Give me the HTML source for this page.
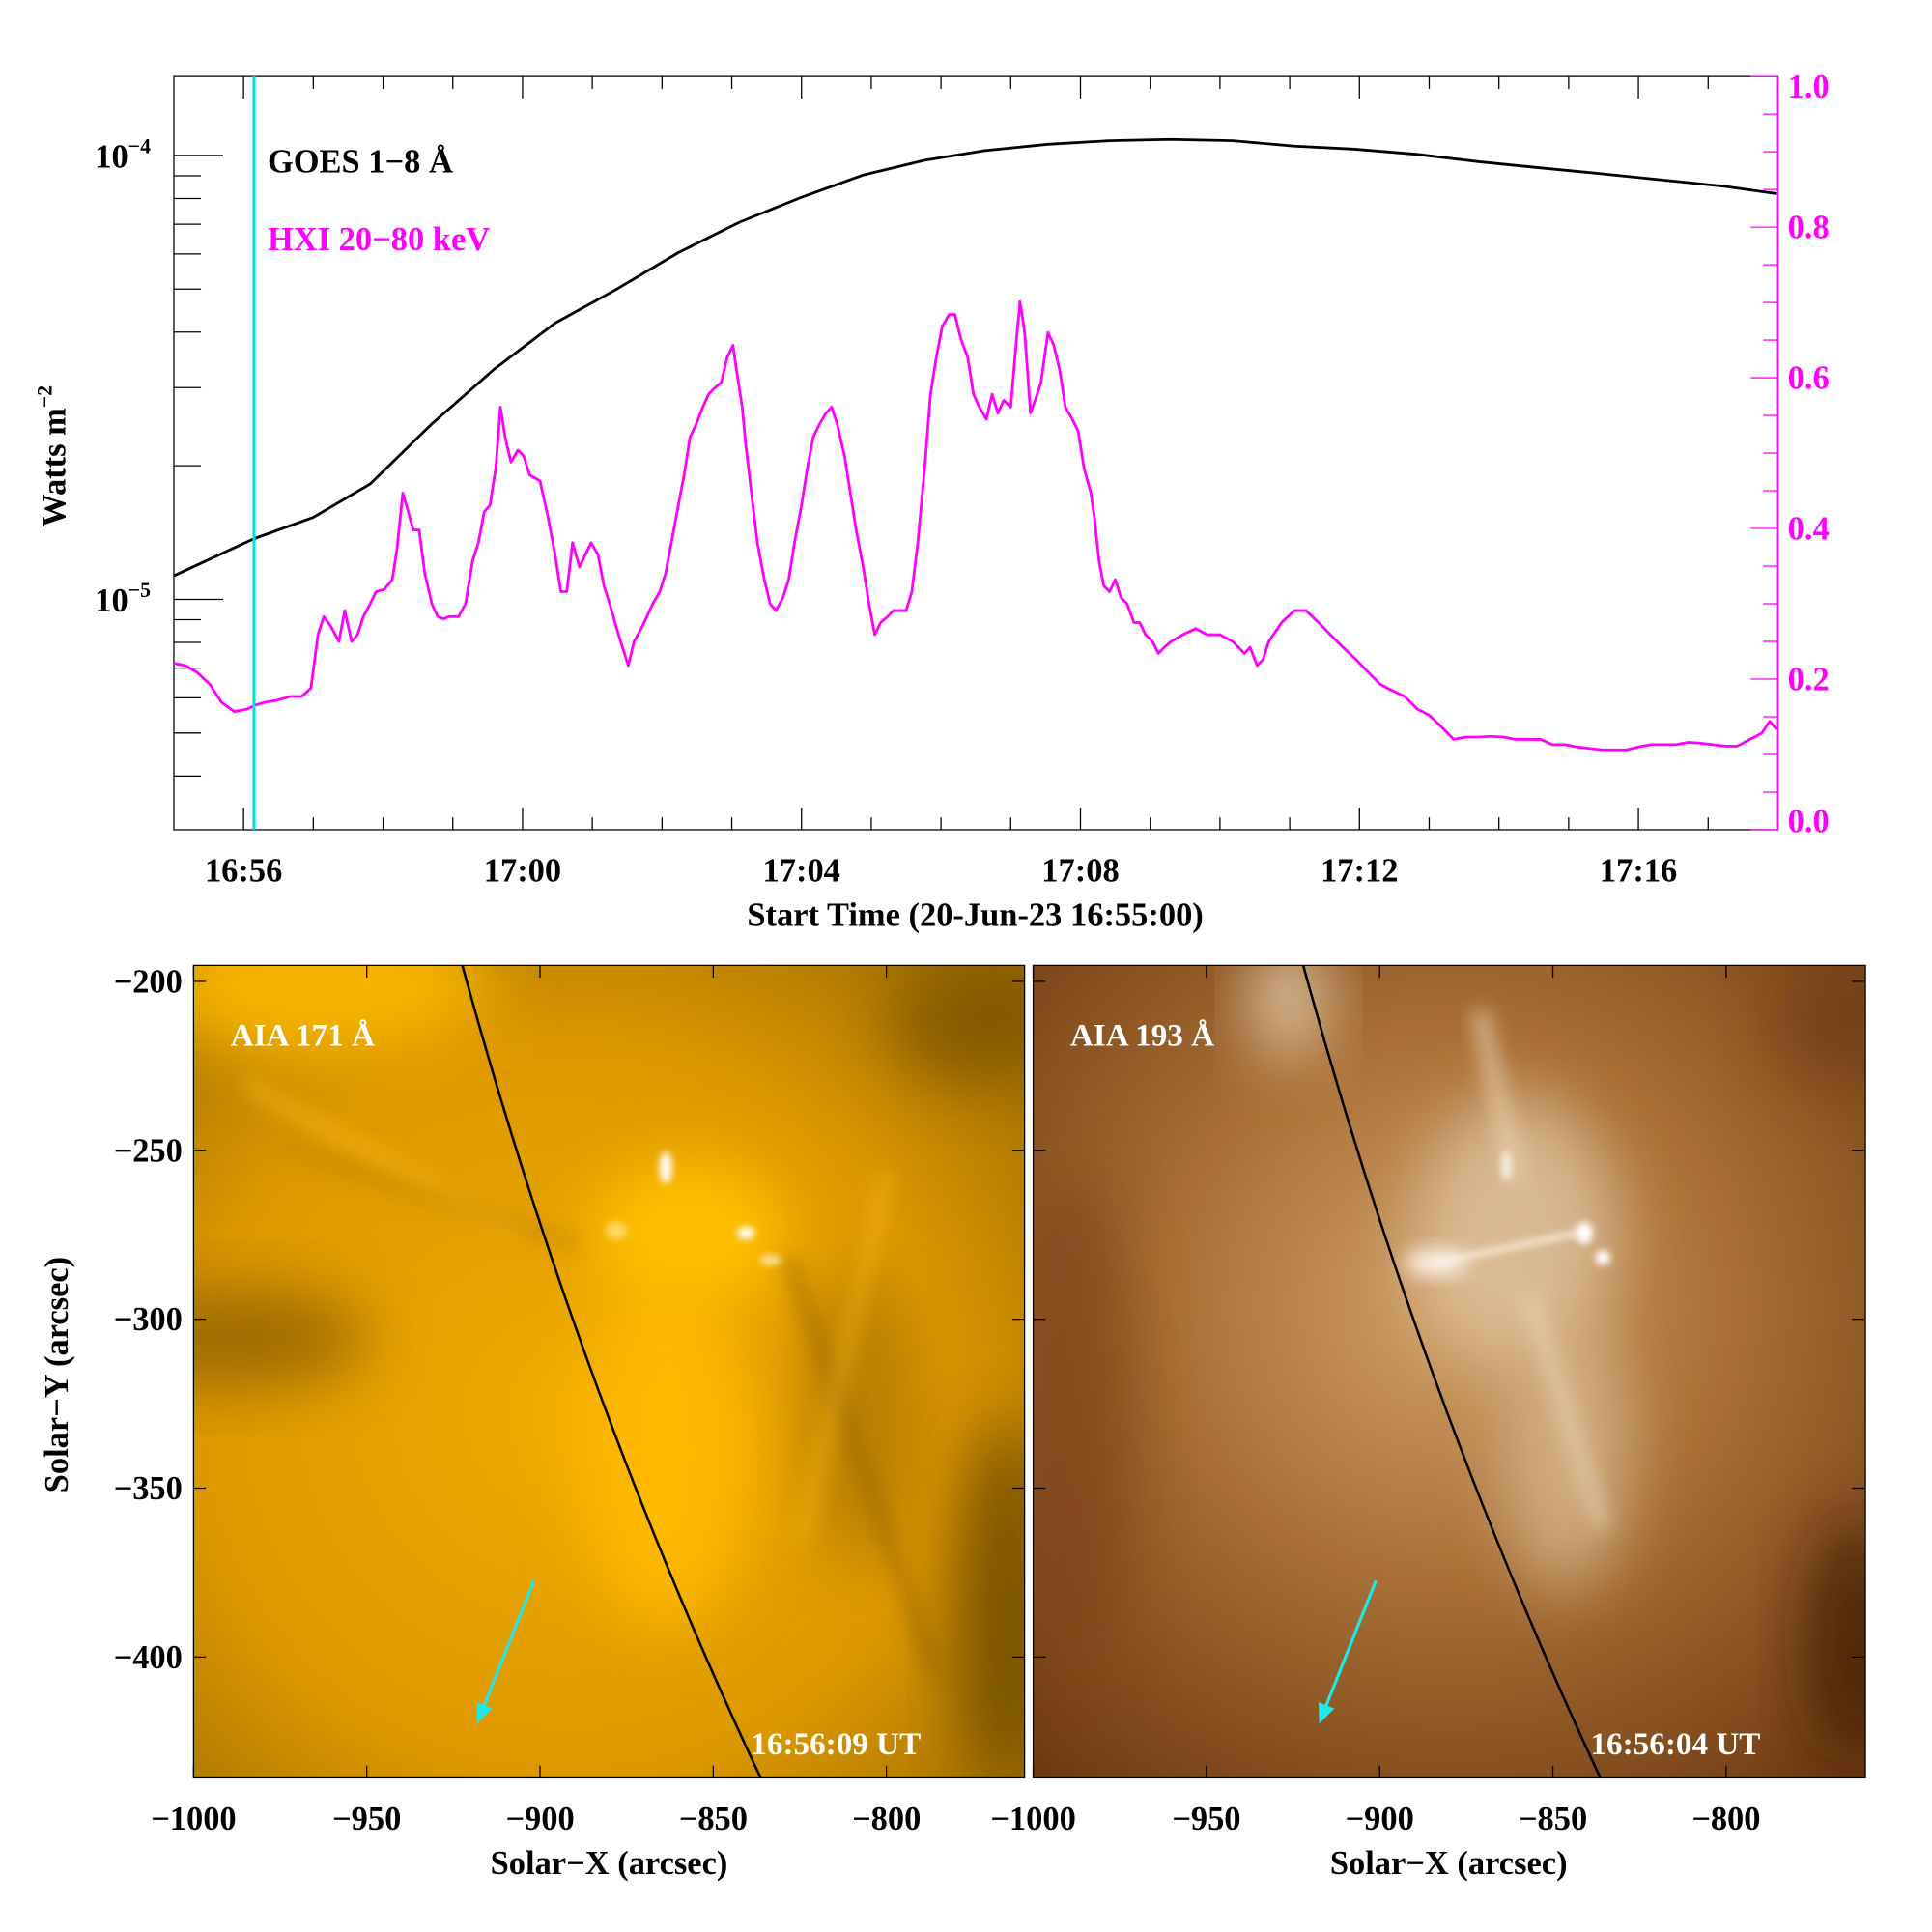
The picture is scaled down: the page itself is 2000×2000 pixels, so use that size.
<!DOCTYPE html>
<html><head><meta charset="utf-8"><style>
html,body{margin:0;padding:0;background:#fff;overflow:hidden}
svg{display:block}
text{font-family:"Liberation Serif",serif}
</style></head><body>
<svg id="fig" xmlns="http://www.w3.org/2000/svg" width="2000" height="2000" viewBox="0 0 1567 1567">
<defs>
<filter id="blur8" x="-50%" y="-50%" width="200%" height="200%"><feGaussianBlur stdDeviation="8"/></filter>
<filter id="blur20" x="-50%" y="-50%" width="200%" height="200%"><feGaussianBlur stdDeviation="26"/></filter>
<filter id="blur3" x="-50%" y="-50%" width="200%" height="200%"><feGaussianBlur stdDeviation="3"/></filter>
<clipPath id="clipL"><rect x="157" y="783" width="674" height="659"/></clipPath>
<clipPath id="clipR"><rect x="838" y="783" width="675" height="659"/></clipPath>
<radialGradient id="gL" cx="0.45" cy="0.55" r="0.75"><stop offset="0" stop-color="#f0ac00"/><stop offset="0.6" stop-color="#dc9800"/><stop offset="1" stop-color="#9a6c00"/></radialGradient>
<radialGradient id="gR" cx="0.5" cy="0.42" r="0.75"><stop offset="0" stop-color="#d0a068"/><stop offset="0.45" stop-color="#a87036"/><stop offset="1" stop-color="#6e3a10"/></radialGradient>
</defs>
<g id="topPanel"></g>
<g id="bottomPanel"></g>
</svg>
<script>
// ---- chart data ----
const goesTimes = [0,69,120,169,221,275,328,380,434,487,540,593,646,698,752,805,857,911,964,1016,1070,1123,1175,1229,1282,1334,1379]; // seconds after 16:55:00
const goesFlux = [1.13e-5,1.37e-5,1.53e-5,1.82e-5,2.47e-5,3.29e-5,4.19e-5,4.98e-5,6.04e-5,7.08e-5,8.05e-5,9.03e-5,9.75e-5,1.026e-4,1.06e-4,1.08e-4,1.087e-4,1.08e-4,1.05e-4,1.033e-4,1.006e-4,9.68e-5,9.38e-5,9.09e-5,8.8e-5,8.52e-5,8.2e-5];
const hxiTimes = [0,10,20,31,41,52,63,69,78,89,100,110,118,124,129,135,142,147,153,158,163,169,174,181,188,192,197,200,206,211,216,222,227,232,237,245,251,257,262,267,272,277,281,285,290,296,301,306,315,322,328,333,338,343,349,354,359,365,370,375,381,386,391,396,402,407,412,418,423,428,434,439,444,449,455,460,465,471,476,481,484,489,492,497,502,508,513,518,524,529,534,540,545,550,555,561,566,571,577,582,587,593,598,603,608,614,619,624,630,635,640,646,651,656,661,667,672,677,683,688,693,699,704,709,714,720,725,728,732,737,741,746,752,757,762,767,773,778,783,789,792,796,800,805,810,815,820,826,831,836,842,847,852,858,868,879,889,900,911,921,926,932,937,942,953,964,974,985,995,1006,1017,1027,1038,1048,1059,1070,1080,1091,1101,1112,1123,1133,1144,1154,1165,1176,1186,1197,1207,1218,1229,1239,1250,1260,1271,1282,1292,1303,1313,1324,1335,1345,1356,1366,1373,1379];
const hxiValues = [0.221,0.218,0.209,0.193,0.169,0.157,0.160,0.165,0.169,0.172,0.177,0.177,0.188,0.259,0.283,0.270,0.250,0.291,0.250,0.259,0.283,0.300,0.316,0.319,0.332,0.373,0.447,0.431,0.398,0.398,0.340,0.300,0.283,0.280,0.283,0.283,0.300,0.357,0.381,0.422,0.431,0.480,0.561,0.521,0.488,0.504,0.496,0.471,0.463,0.414,0.365,0.316,0.316,0.381,0.349,0.365,0.381,0.365,0.324,0.300,0.267,0.242,0.218,0.250,0.267,0.283,0.300,0.316,0.340,0.381,0.431,0.471,0.521,0.537,0.561,0.578,0.586,0.594,0.627,0.643,0.611,0.561,0.512,0.447,0.381,0.332,0.300,0.291,0.308,0.332,0.381,0.431,0.480,0.521,0.537,0.553,0.561,0.537,0.496,0.447,0.398,0.349,0.300,0.259,0.275,0.283,0.291,0.291,0.291,0.316,0.381,0.480,0.578,0.627,0.668,0.684,0.684,0.652,0.627,0.578,0.561,0.545,0.578,0.553,0.570,0.561,0.652,0.701,0.660,0.553,0.570,0.594,0.660,0.643,0.611,0.561,0.545,0.529,0.480,0.447,0.414,0.357,0.324,0.316,0.332,0.308,0.300,0.275,0.275,0.259,0.250,0.234,0.242,0.250,0.259,0.267,0.259,0.259,0.250,0.234,0.242,0.218,0.226,0.250,0.275,0.291,0.291,0.275,0.259,0.242,0.226,0.210,0.193,0.185,0.177,0.160,0.152,0.136,0.120,0.123,0.123,0.124,0.123,0.120,0.120,0.120,0.113,0.113,0.110,0.108,0.106,0.106,0.106,0.110,0.113,0.113,0.113,0.116,0.115,0.113,0.111,0.111,0.120,0.128,0.144,0.133];
const timeTickLabels = ["16:56","17:00","17:04","17:08","17:12","17:16"];
const timeTickSeconds = [60,300,540,780,1020,1260];
const rightTickValues = [0.0,0.2,0.4,0.6,0.8,1.0];
const leftDecades = [-5,-4];
const markerTime = [69]; // cyan line 16:56:09
const xTickArcsec = [-1000,-950,-900,-850,-800];
const yTickArcsec = [-200,-250,-300,-350,-400];

const NS="http://www.w3.org/2000/svg";
function el(tag,attrs,parent,txt){const e=document.createElementNS(NS,tag);for(const k in attrs)e.setAttribute(k,attrs[k]);if(txt!==undefined)e.textContent=txt;parent.appendChild(e);return e;}

const topG=document.getElementById('topPanel');
const PL=141,PR=1442,PT=62,PB=673;
const T0=0,T1=1380;
const xS=t=>PL+(t-T0)/(T1-T0)*(PR-PL);
const LMIN=-5.519,LMAX=-3.822;
const yLog=v=>PB-(Math.log10(v)-LMIN)/(LMAX-LMIN)*(PB-PT);
const yLin=v=>PB-v*(PB-PT);
const FS=27;

let r=el('rect',{x:PL,y:PT,width:PR-PL,height:PB-PT,fill:'none',stroke:'#000','stroke-width':1},topG);


let rax=el('line',{x1:PR,y1:PT,x2:PR,y2:PB,stroke:'#ff00ff','stroke-width':1.2},topG);



for(let s=60;s<T1;s+=60){
  const x=xS(s);const major=timeTickSeconds.includes(s);const L=major?18:10;
  const a=el('line',{x1:x,y1:PB,x2:x,y2:PB-L,stroke:'#000','stroke-width':1},topG);
  
  
  const b=el('line',{x1:x,y1:PT,x2:x,y2:PT+L,stroke:'#000','stroke-width':1},topG);
  
  
}
timeTickLabels.forEach((lab,i)=>{
  const t=el('text',{x:xS(timeTickSeconds[i]),y:715,'text-anchor':'middle','font-size':FS,'font-weight':600,fill:'#000'},topG,lab);
  
  
});
let xt=el('text',{x:791,y:751,'text-anchor':'middle','font-size':FS,'font-weight':600,fill:'#000'},topG,'Start Time (20-Jun-23 16:55:00)');



for(let d=-6;d<=-3;d++){
  for(let m=1;m<=9;m++){
    const v=m*Math.pow(10,d);const y=yLog(v);
    if(y<PT||y>PB)continue;
    const L=m===1?40:22;
    const tk=el('line',{x1:PL,y1:y,x2:PL+L,y2:y,stroke:'#000','stroke-width':1},topG);
    
    
  }
}
leftDecades.forEach(d=>{
  const y=yLog(Math.pow(10,d));
  const t=el('text',{x:77,y:y+10,'font-size':FS,'font-weight':600,fill:'#000'},topG);
  
  
  el('tspan',{},t,'10');
  el('tspan',{dy:-12,'font-size':17},t,String(d).replace('-','−'));
});
let yt=el('text',{x:0,y:0,transform:'translate(53,370) rotate(-90)','text-anchor':'middle','font-size':FS,'font-weight':600,fill:'#000'},topG);


el('tspan',{},yt,'Watts m');el('tspan',{dy:-11,'font-size':17},yt,'−2');

for(let k=0;k<=20;k++){
  const v=k*0.05;const y=yLin(v);const major=k%4===0;
  const tk=el('line',{x1:PR,y1:y,x2:PR-(major?22:12),y2:y,stroke:'#ff00ff','stroke-width':1},topG);
  
  
}
rightTickValues.forEach(v=>{
  let y=yLin(v)+9; if(v===0)y-=7; if(v===1)y+=8;
  const t=el('text',{x:1450,y:y,'font-size':FS,'font-weight':600,fill:'#ff00ff'},topG,v.toFixed(1));
  
  
});

let gp=goesTimes.map((t,i)=>(i?'L':'M')+xS(t).toFixed(1)+','+yLog(goesFlux[i]).toFixed(1)).join('');
let gl=el('path',{d:gp,fill:'none',stroke:'#000','stroke-width':2.2,'stroke-linejoin':'round'},topG);


let hp=hxiTimes.map((t,i)=>(i?'L':'M')+xS(t).toFixed(1)+','+yLin(hxiValues[i]).toFixed(1)).join('');
let hl=el('path',{d:hp,fill:'none',stroke:'#ff00ff','stroke-width':2.2,'stroke-linejoin':'round'},topG);


markerTime.forEach(t=>{
  const c=el('line',{x1:xS(t),y1:PT,x2:xS(t),y2:PB,stroke:'#00e0f0','stroke-width':2.5},topG);
  
  
});
let l1=el('text',{x:217,y:140,'font-size':FS,'font-weight':600,fill:'#000'},topG,'GOES 1−8 Å');


let l2=el('text',{x:217,y:203,'font-size':FS,'font-weight':600,fill:'#ff00ff'},topG,'HXI 20−80 keV');



// ---- bottom image panels ----
const botG=document.getElementById('bottomPanel');
const IT=783,IB=1442;
const yA=v=>796+(-200-v)/50*137;
function panel(x0,clip,grad,name,feats,label,time,limb,arrow){
  const g=el('g',{'clip-path':'url(#'+clip+')'},botG);
  
  
  el('rect',{x:x0,y:IT,width:675,height:IB-IT,fill:'url(#'+grad+')'},g);
  feats.forEach(c=>{
    const f=el(c[0]==='e'?'ellipse':'line',c[1],g);
    
    
  });
  const lp=el('path',{d:limb,fill:'none',stroke:'#000','stroke-width':2},botG);
  
  
  const ar=el('g',{},botG);
  
  
  el('line',{x1:arrow[0],y1:arrow[1],x2:arrow[2]+3,y2:arrow[3]-8,stroke:'#20e8e8','stroke-width':2.5},ar);
  const dx=arrow[2]-arrow[0],dy=arrow[3]-arrow[1],L=Math.hypot(dx,dy),ux=dx/L,uy=dy/L;
  const bx=arrow[2]-ux*16,by=arrow[3]-uy*16;
  el('polygon',{points:`${arrow[2]},${arrow[3]} ${bx-uy*7},${by+ux*7} ${bx+uy*7},${by-ux*7}`,fill:'#20e8e8'},ar);
  const fr=el('rect',{x:x0,y:IT,width:(x0<800?674:675),height:IB-IT,fill:'none',stroke:'#000','stroke-width':1},botG);
  
  
  const tl=el('text',{x:x0+30,y:848,'font-size':26,'font-weight':600,fill:'#fff'},botG,label);
  
  
  const tt=el('text',{x:x0+452,y:1423,'font-size':26,'font-weight':600,fill:'#fff'},botG,time);
  
  
  xTickArcsec.forEach(v=>{
    const x=x0+(v+1000)/50*140.5;
    const t1=el('line',{x1:x,y1:IB,x2:x,y2:IB-10,stroke:'#000'},botG);
    
    
    const t2=el('line',{x1:x,y1:IT,x2:x,y2:IT+10,stroke:'#000'},botG);
    
    
    const lb=el('text',{x:x,y:1484,'text-anchor':'middle','font-size':FS,'font-weight':600,fill:'#000'},botG,String(v).replace('-','−'));
    
    
  });
  yTickArcsec.forEach(v=>{
    const y=yA(v);
    const t1=el('line',{x1:x0,y1:y,x2:x0+10,y2:y,stroke:'#000'},botG);
    
    
    const t2=el('line',{x1:x0+674,y1:y,x2:x0+664,y2:y,stroke:'#000'},botG);
    
    
  });
  const xl=el('text',{x:x0+337,y:1520,'text-anchor':'middle','font-size':FS,'font-weight':600,fill:'#000'},botG,'Solar−X (arcsec)');
  
  
}
const Lfeat=[
 ['e',{cx:260,cy:800,rx:140,ry:60,fill:'#f6b400',filter:'url(#blur20)'}],
 ['e',{cx:190,cy:1085,rx:110,ry:40,fill:'#8a5e00',opacity:0.8,filter:'url(#blur20)'}],
 ['e',{cx:815,cy:1300,rx:40,ry:150,fill:'#5a3e00',opacity:0.7,filter:'url(#blur20)'}],
 ['e',{cx:790,cy:830,rx:70,ry:50,fill:'#6a4a00',opacity:0.6,filter:'url(#blur20)'}],
 ['e',{cx:700,cy:1150,rx:50,ry:120,fill:'#a07000',opacity:0.6,filter:'url(#blur20)'}],
 ['e',{cx:540,cy:1180,rx:70,ry:140,fill:'#ffb800',filter:'url(#blur20)'}],
 ['e',{cx:560,cy:1000,rx:80,ry:60,fill:'#ffc000',filter:'url(#blur20)'}],
 ['e',{cx:540,cy:947,rx:5,ry:13,fill:'#fff',filter:'url(#blur3)'}],
 ['e',{cx:605,cy:1000,rx:7,ry:5,fill:'#fff',filter:'url(#blur3)'}],
 ['e',{cx:625,cy:1022,rx:9,ry:4,fill:'#ffe8a0',filter:'url(#blur3)'}],
 ['e',{cx:500,cy:998,rx:9,ry:7,fill:'#ffd860',filter:'url(#blur3)'}],
 ['l',{x1:200,y1:880,x2:420,y2:1000,stroke:'#ffbc20','stroke-width':10,opacity:0.6,filter:'url(#blur8)'}],
 ['l',{x1:230,y1:930,x2:470,y2:1010,stroke:'#b88000','stroke-width':12,opacity:0.5,filter:'url(#blur8)'}],
 ['l',{x1:640,y1:1020,x2:760,y2:1360,stroke:'#8a6000','stroke-width':12,opacity:0.5,filter:'url(#blur8)'}],
 ['l',{x1:720,y1:950,x2:650,y2:1250,stroke:'#ffc020','stroke-width':8,opacity:0.6,filter:'url(#blur8)'}]
];
const Rfeat=[
 ['e',{cx:1045,cy:810,rx:30,ry:50,fill:'#f0dcc0',opacity:0.8,filter:'url(#blur20)'}],
 ['e',{cx:870,cy:1150,rx:50,ry:200,fill:'#7a4014',opacity:0.6,filter:'url(#blur20)'}],
 ['e',{cx:1505,cy:1330,rx:40,ry:100,fill:'#3a1800',opacity:0.7,filter:'url(#blur20)'}],
 ['e',{cx:1490,cy:830,rx:50,ry:50,fill:'#6a3810',opacity:0.6,filter:'url(#blur20)'}],
 ['e',{cx:1230,cy:1000,rx:80,ry:110,fill:'#e0c4a0',opacity:0.8,filter:'url(#blur20)'}],
 ['e',{cx:1270,cy:1180,rx:50,ry:110,fill:'#d8b890',opacity:0.8,filter:'url(#blur20)'}],
 ['e',{cx:1165,cy:1024,rx:26,ry:10,fill:'#fff8f0',filter:'url(#blur8)'}],
 ['l',{x1:1165,y1:1024,x2:1280,y2:1000,stroke:'#fff4e8','stroke-width':5,opacity:0.8,filter:'url(#blur3)'}],
 ['e',{cx:1222,cy:945,rx:4,ry:12,fill:'#fff',filter:'url(#blur3)'}],
 ['e',{cx:1285,cy:1000,rx:7,ry:9,fill:'#fff',filter:'url(#blur3)'}],
 ['e',{cx:1300,cy:1020,rx:6,ry:6,fill:'#fff',filter:'url(#blur3)'}],
 ['l',{x1:1240,y1:1050,x2:1300,y2:1240,stroke:'#f0dcc0','stroke-width':10,opacity:0.7,filter:'url(#blur8)'}],
 ['l',{x1:1200,y1:820,x2:1230,y2:960,stroke:'#e8d0b0','stroke-width':14,opacity:0.7,filter:'url(#blur8)'}]
];
panel(157,'clipL','gL','aia-171-image',Lfeat,'AIA 171 Å','16:56:09 UT','M375,783 Q470,1130 617,1442',[433,1282,387,1398]);
panel(838,'clipR','gR','aia-193-image',Rfeat,'AIA 193 Å','16:56:04 UT','M1057,783 Q1152,1130 1298,1442',[1116,1282,1070,1398]);
yTickArcsec.forEach(v=>{
  const lb=el('text',{x:148,y:yA(v)+9,'text-anchor':'end','font-size':FS,'font-weight':600,fill:'#000'},botG,String(v).replace('-','−'));
  
  
});
let syt=el('text',{x:0,y:0,transform:'translate(55,1115) rotate(-90)','text-anchor':'middle','font-size':FS,'font-weight':600,fill:'#000'},botG,'Solar−Y (arcsec)');


</script>
</body></html>
